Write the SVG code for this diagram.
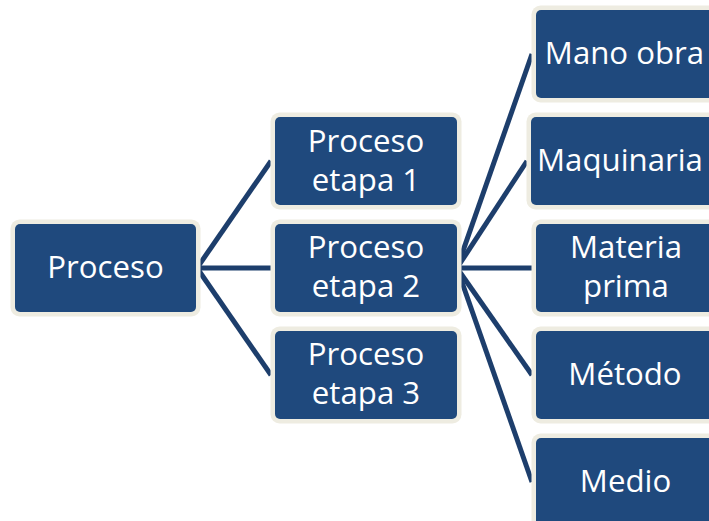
<svg xmlns="http://www.w3.org/2000/svg" width="709" height="521" viewBox="0 0 709 521">
  <style>
    .frame { fill: #EEECE1; }
    .box { fill: #1F497D; }
    .label { fill: #FFFFFF; font-family: "Open Sans", "Noto Sans", "Liberation Sans", sans-serif; font-size: 31.2px; text-anchor: middle; }
    .link { stroke: #1D3E6C; stroke-width: 5; fill: none; stroke-linecap: butt; }
  </style>
  <rect width="709" height="521" fill="#FFFFFF"/>

  <!-- connectors: root to stages, stage 2 to its factors -->
  <g id="connectors">
    <line class="link" x1="197" y1="268" x2="271" y2="161"/>
    <line class="link" x1="197" y1="268" x2="271" y2="268"/>
    <line class="link" x1="197" y1="268" x2="271" y2="375"/>
    <line class="link" x1="457" y1="268" x2="532" y2="54"/>
    <line class="link" x1="457" y1="268" x2="527" y2="161"/>
    <line class="link" x1="457" y1="268" x2="532" y2="268"/>
    <line class="link" x1="457" y1="268" x2="532" y2="375"/>
    <line class="link" x1="457" y1="268" x2="532" y2="482"/>
  </g>

  <g id="node-proceso">
    <rect class="frame" x="10.5" y="219.5" width="190" height="97" rx="9"/>
    <rect class="box" x="15" y="224" width="181" height="88" rx="5"/>
    <text class="label" x="105.5" y="277.5">Proceso</text>
  </g>

  <g id="node-etapa1">
    <rect class="frame" x="270.5" y="112.5" width="191" height="97" rx="9"/>
    <rect class="box" x="275" y="117" width="182" height="88" rx="5"/>
    <text class="label" x="366" y="151.5">Proceso</text>
    <text class="label" x="366" y="190.5">etapa 1</text>
  </g>

  <g id="node-etapa2">
    <rect class="frame" x="270.5" y="219.5" width="191" height="97" rx="9"/>
    <rect class="box" x="275" y="224" width="182" height="88" rx="5"/>
    <text class="label" x="366" y="258">Proceso</text>
    <text class="label" x="366" y="297">etapa 2</text>
  </g>

  <g id="node-etapa3">
    <rect class="frame" x="270.5" y="326.5" width="191" height="97" rx="9"/>
    <rect class="box" x="275" y="331" width="182" height="88" rx="5"/>
    <text class="label" x="366" y="365">Proceso</text>
    <text class="label" x="366" y="404">etapa 3</text>
  </g>

  <g id="node-mano-obra">
    <rect class="frame" x="531.5" y="5.5" width="190" height="97" rx="9"/>
    <rect class="box" x="536" y="10" width="181" height="88" rx="5"/>
    <text class="label" x="624.5" y="63.5">Mano obra</text>
  </g>

  <g id="node-maquinaria">
    <rect class="frame" x="526.5" y="112.5" width="195" height="97" rx="9"/>
    <rect class="box" x="531" y="117" width="186" height="88" rx="5"/>
    <text class="label" x="620" y="170.5">Maquinaria</text>
  </g>

  <g id="node-materia-prima">
    <rect class="frame" x="531.5" y="219.5" width="190" height="97" rx="9"/>
    <rect class="box" x="536" y="224" width="181" height="88" rx="5"/>
    <text class="label" x="626" y="258">Materia</text>
    <text class="label" x="626" y="297">prima</text>
  </g>

  <g id="node-metodo">
    <rect class="frame" x="531.5" y="326.5" width="190" height="97" rx="9"/>
    <rect class="box" x="536" y="331" width="181" height="88" rx="5"/>
    <text class="label" x="625" y="384.5">Método</text>
  </g>

  <g id="node-medio">
    <rect class="frame" x="531.5" y="433.5" width="190" height="97" rx="9"/>
    <rect class="box" x="536" y="438" width="181" height="88" rx="5"/>
    <text class="label" x="625.5" y="491.5">Medio</text>
  </g>
</svg>
